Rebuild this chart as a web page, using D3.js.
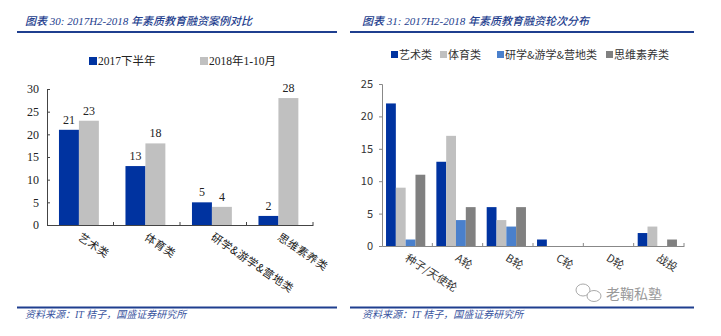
<!DOCTYPE html>
<html><head><meta charset="utf-8">
<script src="https://cdn.jsdelivr.net/npm/d3@7"></script>
<style>
body{margin:0;background:#fff;}
svg{display:block;}
</style></head>
<body>
<svg id="c" width="721" height="336"></svg>
<script>
// ---- Left chart data ----
const leftTitle = "图表 30:  2017H2-2018 年素质教育融资案例对比";
const leftCats = ["艺术类", "体育类", "研学&游学&营地类", "思维素养类"];
const leftSeries = ["2017下半年", "2018年1-10月"];
const left2017 = [21, 13, 5, 2];
const left2018 = [23, 18, 4, 28];
const leftTicks = [0, 5, 10, 15, 20, 25, 30];

// ---- Right chart data ----
const rightTitle = "图表 31:  2017H2-2018 年素质教育融资轮次分布";
const rightCats = ["种子/天使轮", "A轮", "B轮", "C轮", "D轮", "战投"];
const rightSeries = ["艺术类", "体育类", "研学&游学&营地类", "思维素养类"];
const rightArt = [22, 13, 6, 1, 0, 2];
const rightSport = [9, 17, 4, 0, 0, 3];
const rightStudy = [1, 4, 3, 0, 0, 0];
const rightThink = [11, 6, 6, 0, 0, 1];
const rightTicks = [0, 5, 10, 15, 20, 25];

const source = "资料来源：IT 桔子，国盛证券研究所";
const watermark = "老鞠私塾";

const svg = d3.select("#c");
const serif = "'Liberation Serif','Times New Roman','Noto Sans CJK SC',serif";
const cjk = "'Noto Sans CJK SC','Liberation Sans',sans-serif";
const titleColor = "#24408e";
const lineColor = "#1f3f8f";

// header / footer
function frame(x1, x2, title, tx) {
  svg.append("text").attr("x", tx).attr("y", 25)
    .attr("font-family", "'Liberation Serif','Noto Sans CJK SC',serif")
    .attr("font-style", "italic").attr("font-weight", 500)
    .attr("font-size", 11).attr("fill", titleColor).text(title);
  svg.append("line").attr("x1", x1).attr("x2", x2).attr("y1", 32).attr("y2", 32)
    .attr("stroke", lineColor).attr("stroke-width", 2);
  svg.append("line").attr("x1", x1).attr("x2", x2).attr("y1", 307.5).attr("y2", 307.5)
    .attr("stroke", lineColor).attr("stroke-width", 2);
  svg.append("text").attr("x", tx).attr("y", 318)
    .attr("font-family", "'Liberation Serif','Noto Sans CJK SC',serif")
    .attr("font-style", "italic").attr("font-size", 10).attr("fill", "#3a55a0").text(source);
}
frame(17, 337, leftTitle, 25);
frame(350, 694, rightTitle, 362);

// ================= LEFT =================
(function(){
  const x0 = d3.scaleBand().domain(leftCats).range([47, 313]).padding(0);
  const bw = x0.bandwidth();
  const x1 = d3.scaleBand().domain(leftSeries).range([bw*0.18, bw*0.78]).padding(0);
  const y = d3.scaleLinear().domain([0, 30]).range([225, 89]);
  const colors = {"2017下半年": "#0033a0", "2018年1-10月": "#c0c0c0"};
  const rows = leftCats.map((c, i) => ({cat: c, vals: [
    {s: leftSeries[0], v: left2017[i]}, {s: leftSeries[1], v: left2018[i]}]}));

  const g = svg.append("g");
  const grp = g.selectAll("g.cat").data(rows).join("g")
    .attr("transform", d => `translate(${x0(d.cat)},0)`);
  grp.selectAll("rect").data(d => d.vals).join("rect")
    .attr("x", d => x1(d.s)).attr("width", x1.bandwidth())
    .attr("y", d => y(d.v)).attr("height", d => y(0) - y(d.v))
    .attr("fill", d => colors[d.s]);
  grp.selectAll("text").data(d => d.vals).join("text")
    .attr("x", d => x1(d.s) + x1.bandwidth()/2).attr("y", d => y(d.v) - 6)
    .attr("text-anchor", "middle").attr("font-family", serif).attr("font-size", 12)
    .attr("fill", "#222").text(d => d.v);

  // y axis
  const ya = g.append("g").attr("transform", "translate(47,0)")
    .call(d3.axisLeft(y).tickValues(leftTicks).tickSize(-3).tickPadding(8));
  ya.select(".domain").attr("stroke", "#444");
  ya.selectAll(".tick line").attr("stroke", "#444");
  ya.selectAll("text").attr("font-family", serif).attr("font-size", 12).attr("fill", "#222");

  // x axis
  const xa = g.append("g").attr("transform", "translate(0,225)")
    .call(d3.axisBottom(x0).tickSize(0).tickFormat(""));
  xa.select(".domain").attr("stroke", "#444");
  xa.selectAll(".tick").remove();
  const edges = leftCats.map(c => x0(c) + bw);
  g.selectAll("line.xt").data(edges).join("line").attr("class", "xt")
    .attr("x1", d => d).attr("x2", d => d).attr("y1", 222).attr("y2", 225)
    .attr("stroke", "#444");
  g.selectAll("text.xl").data(leftCats).join("text").attr("class", "xl")
    .attr("transform", d => `translate(${x0(d) + bw/2 - 3},${239}) rotate(34)`)
    .attr("font-family", cjk).attr("font-size", 11).attr("letter-spacing", 0.5)
    .attr("fill", "#222").text(d => d);

  // legend
  const lg = g.append("g");
  const lx = [89, 200];
  leftSeries.forEach((s, i) => {
    lg.append("rect").attr("x", lx[i]).attr("y", 57).attr("width", 8).attr("height", 8)
      .attr("fill", colors[s]);
    lg.append("text").attr("x", lx[i] + 9).attr("y", 65).attr("font-family", serif)
      .attr("font-size", 11.5).attr("fill", "#222").text(s);
  });
})();

// ================= RIGHT =================
(function(){
  const x0 = d3.scaleBand().domain(rightCats).range([382, 684]).padding(0);
  const bw = x0.bandwidth();
  const x1 = d3.scaleBand().domain(rightSeries).range([bw*0.08, bw*0.86]).padding(0);
  const y = d3.scaleLinear().domain([0, 25]).range([246, 84]);
  const colors = ["#0033a0", "#c0c0c0", "#4a80cc", "#808080"];
  const data = [rightArt, rightSport, rightStudy, rightThink];
  const rows = rightCats.map((c, i) => ({cat: c,
    vals: rightSeries.map((s, j) => ({s, j, v: data[j][i]}))}));

  const g = svg.append("g");
  const grp = g.selectAll("g.cat").data(rows).join("g")
    .attr("transform", d => `translate(${x0(d.cat)},0)`);
  grp.selectAll("rect").data(d => d.vals.filter(v => v.v > 0)).join("rect")
    .attr("x", d => x1(d.s)).attr("width", x1.bandwidth())
    .attr("y", d => y(d.v)).attr("height", d => y(0) - y(d.v))
    .attr("fill", d => colors[d.j]);

  const ya = g.append("g").attr("transform", "translate(382,0)")
    .call(d3.axisLeft(y).tickValues(rightTicks).tickSize(3).tickPadding(6));
  ya.select(".domain").attr("stroke", "#888");
  ya.selectAll(".tick line").attr("stroke", "#888");
  ya.selectAll("text").attr("font-family", cjk).attr("font-size", 11).attr("fill", "#333");

  const xa = g.append("g").attr("transform", "translate(0,246)")
    .call(d3.axisBottom(x0).tickSize(0).tickFormat(""));
  xa.select(".domain").attr("stroke", "#888");
  xa.selectAll(".tick").remove();
  const edges = rightCats.map(c => x0(c) + bw);
  g.selectAll("line.xt").data(edges).join("line").attr("class", "xt")
    .attr("x1", d => d).attr("x2", d => d).attr("y1", 243).attr("y2", 246)
    .attr("stroke", "#888");
  g.selectAll("text.xl").data(rightCats).join("text").attr("class", "xl")
    .attr("transform", d => `translate(${x0(d) + bw/2 - 3},${260}) rotate(33)`)
    .attr("font-family", cjk).attr("font-size", 11).attr("fill", "#333").text(d => d);

  const lx = [391, 440, 497, 606];
  rightSeries.forEach((s, i) => {
    g.append("rect").attr("x", lx[i]).attr("y", 51).attr("width", 7).attr("height", 7)
      .attr("fill", colors[i]);
    g.append("text").attr("x", lx[i] + 8).attr("y", 59).attr("font-family", cjk)
      .attr("font-size", 11).attr("fill", "#333").text(s);
  });

  // watermark
  const wm = svg.append("g").attr("fill", "none").attr("stroke", "#aaa").attr("stroke-width", 1);
  wm.append("ellipse").attr("cx", 583).attr("cy", 290).attr("rx", 7).attr("ry", 6);
  wm.append("ellipse").attr("cx", 594).attr("cy", 296).attr("rx", 7).attr("ry", 5.5).attr("fill", "#fff");
  svg.append("text").attr("x", 606).attr("y", 299).attr("font-family", cjk)
    .attr("font-size", 14).attr("fill", "#9a9a9a").text(watermark);
})();
</script>
</body></html>
